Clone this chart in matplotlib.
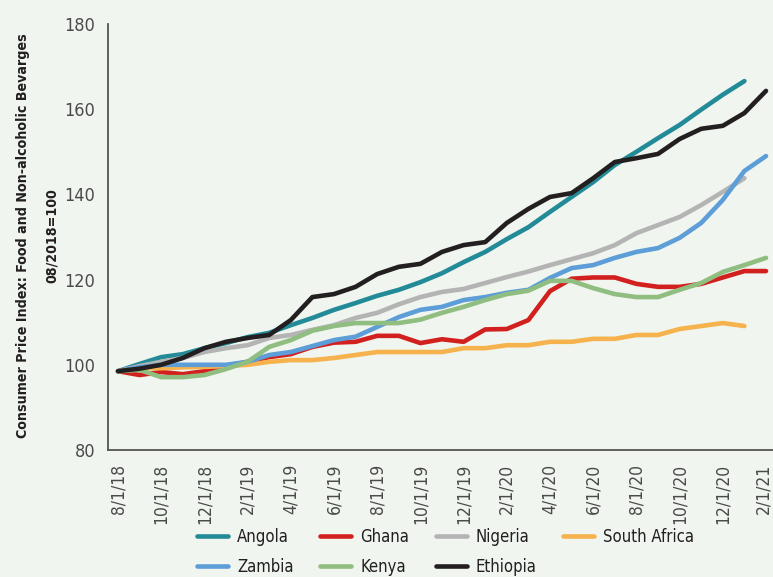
import matplotlib
matplotlib.use("Agg")
import matplotlib.pyplot as plt
import matplotlib.transforms as mtransforms
from matplotlib import font_manager as fm

# ---------------- data ----------------
months = ['8/1/18', '9/1/18', '10/1/18', '11/1/18', '12/1/18', '1/1/19', '2/1/19', '3/1/19',
          '4/1/19', '5/1/19', '6/1/19', '7/1/19', '8/1/19', '9/1/19', '10/1/19', '11/1/19',
          '12/1/19', '1/1/20', '2/1/20', '3/1/20', '4/1/20', '5/1/20', '6/1/20', '7/1/20',
          '8/1/20', '9/1/20', '10/1/20', '11/1/20', '12/1/20', '1/1/21', '2/1/21']
tick_labels = ['8/1/18', '10/1/18', '12/1/18', '2/1/19', '4/1/19', '6/1/19', '8/1/19', '10/1/19',
               '12/1/19', '2/1/20', '4/1/20', '6/1/20', '8/1/20', '10/1/20', '12/1/20', '2/1/21']

angola = [98.5, 100.2, 101.8, 102.5, 103.9, 105.1, 106.5, 107.5, 109.3, 111.0, 112.9, 114.5,
          116.2, 117.6, 119.4, 121.5, 124.1, 126.5, 129.5, 132.3, 135.9, 139.4, 142.9, 146.9,
          150.0, 153.2, 156.3, 159.9, 163.4, 166.6]
ghana = [98.5, 97.6, 98.3, 97.8, 98.5, 99.7, 100.7, 101.8, 102.5, 104.2, 105.2, 105.4,
         106.8, 106.8, 105.1, 106.0, 105.4, 108.3, 108.4, 110.5, 117.3, 120.2, 120.5, 120.5,
         119.0, 118.3, 118.3, 119.0, 120.5, 122.0, 122.0]
nigeria = [98.5, 99.7, 100.7, 101.6, 103.0, 103.9, 104.6, 106.3, 107.0, 108.2, 109.3, 111.0,
           112.2, 114.2, 115.9, 117.1, 117.8, 119.2, 120.6, 121.9, 123.4, 124.8, 126.2, 128.1,
           130.9, 132.8, 134.7, 137.5, 140.6, 143.8]
south_africa = [98.5, 99.2, 99.2, 99.4, 99.5, 99.7, 100.0, 100.7, 101.1, 101.1, 101.6, 102.3,
                103.0, 103.0, 103.0, 103.0, 103.9, 103.9, 104.6, 104.6, 105.4, 105.4, 106.1, 106.1,
                107.0, 107.0, 108.4, 109.1, 109.8, 109.1]
zambia = [98.5, 99.4, 100.0, 100.0, 100.0, 100.0, 100.7, 102.3, 103.0, 104.4, 105.8, 106.6,
          108.9, 111.2, 112.9, 113.6, 115.2, 115.9, 116.9, 117.6, 120.4, 122.7, 123.4, 125.1,
          126.5, 127.4, 129.8, 133.3, 138.7, 145.5, 149.0]
kenya = [98.5, 98.8, 97.1, 97.1, 97.6, 99.0, 100.7, 104.2, 105.8, 108.0, 109.1, 109.8,
         109.8, 109.8, 110.6, 112.2, 113.6, 115.2, 116.6, 117.4, 119.7, 119.7, 118.0, 116.6,
         115.9, 115.9, 117.6, 119.2, 121.8, 123.4, 125.1]
ethiopia = [98.5, 99.1, 100.0, 101.6, 103.9, 105.4, 106.3, 107.0, 110.5, 115.9, 116.6, 118.3,
            121.3, 123.0, 123.7, 126.5, 128.1, 128.8, 133.3, 136.6, 139.4, 140.3, 143.8, 147.6,
            148.5, 149.5, 153.0, 155.4, 156.1, 159.1, 164.3]

series_names = ['Angola', 'Ghana', 'Nigeria', 'South Africa', 'Zambia', 'Kenya', 'Ethiopia']
series_values = [angola, ghana, nigeria, south_africa, zambia, kenya, ethiopia]
series_colors = ['#238b98', '#d2201f', '#b4b4b4', '#f6b24c', '#5d9dd8', '#90bd80', '#231f20']
legend_order = ['Angola', 'Zambia', 'Ghana', 'Kenya', 'Nigeria', 'Ethiopia', 'South Africa']

# ---------------- fonts ----------------
names = {f.name for f in fm.fontManager.ttflist}
stretch = 'normal'
if 'Liberation Sans Narrow' in names:
    family = 'Liberation Sans Narrow'
elif any(f.name == 'DejaVu Sans' and str(f.stretch).lower() in ('condensed', 'semi-condensed')
         for f in fm.fontManager.ttflist):
    family = 'DejaVu Sans'
    stretch = 'condensed'
else:
    family = 'Roboto' if 'Roboto' in names else 'DejaVu Sans'
plt.rcParams['font.family'] = [family, 'DejaVu Sans']
plt.rcParams['font.stretch'] = stretch

BG = '#f0f5ef'
W, H = 773, 577
fig = plt.figure(figsize=(W / 100, H / 100), dpi=100, facecolor=BG)
ax = fig.add_axes([108 / W, 1 - 450 / H, 1 - 108 / W, (450 - 24) / H])
ax.set_facecolor(BG)

handles = {}
for name, vals, col in zip(series_names, series_values, series_colors):
    ln, = ax.plot(months[:len(vals)], vals, color=col, lw=3.3, label=name,
                  solid_capstyle='round', solid_joinstyle='round')
    handles[name] = ln

ax.set_ylim(80, 180)
ax.set_yticks([80, 100, 120, 140, 160, 180])
ax.set_xlim(-10 / 21.6, (773 - 118) / 21.6)
ax.set_xticks(tick_labels)
ax.set_xticklabels(tick_labels, rotation=90)

for s in ['top', 'right']:
    ax.spines[s].set_visible(False)
for s in ['left', 'bottom']:
    ax.spines[s].set_color('#555555')
    ax.spines[s].set_linewidth(1.3)
ax.tick_params(axis='both', length=0, labelcolor='#4a4a4a')
ax.tick_params(axis='y', pad=9, labelsize=13)
ax.tick_params(axis='x', pad=10, labelsize=12.5)

# nudge the last x label slightly left so it stays inside the canvas
last = ax.get_xticklabels()[-1]
last.set_transform(last.get_transform() +
                   mtransforms.ScaledTranslation(-3 / 100, 0, fig.dpi_scale_trans))

# y label: size it so the first line spans ~402 px like the reference
line1 = 'Consumer Price Index: Food and Non-alcoholic Bevarges'
line2 = '08/2018=100'
fig.canvas.draw()
r = fig.canvas.get_renderer()
probe = fig.text(0, 0, line1, fontsize=10, fontweight='bold')
w10 = probe.get_window_extent(r).width
probe.remove()
ysize = min(13.5, 10 * 402 / w10)
cy = 1 - 236 / H
fig.text(23 / W, cy, line1, rotation=90, ha='center', va='center', fontsize=ysize,
         fontweight='bold', color='#231f20')
fig.text(52 / W, cy, line2, rotation=90, ha='center', va='center', fontsize=ysize,
         fontweight='bold', color='#231f20')

leg = fig.legend([handles[n] for n in legend_order], legend_order,
                 loc='upper left', bbox_to_anchor=(197 / W, 1 - 528 / H), ncol=4,
                 frameon=False, fontsize=12, handlelength=1.85, handletextpad=0.55,
                 columnspacing=1.6, labelspacing=0.7, borderaxespad=0, borderpad=0)
for t in leg.get_texts():
    t.set_color('#231f20')

fig.savefig('out.png', dpi=100, facecolor=BG)
